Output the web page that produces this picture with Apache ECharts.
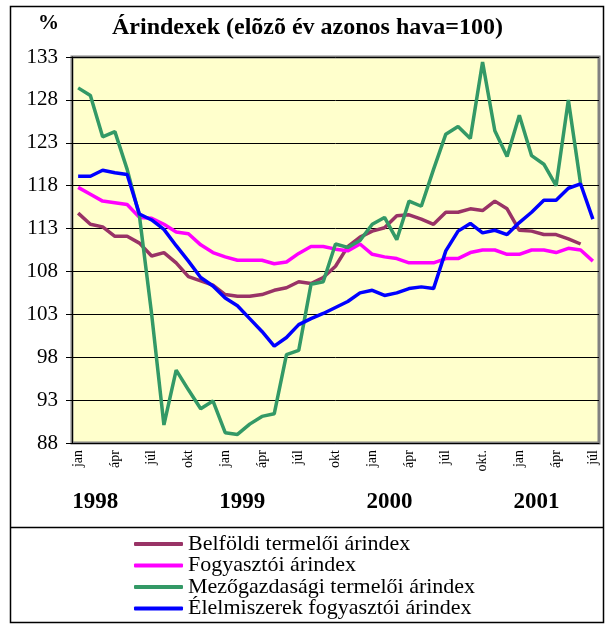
<!DOCTYPE html>
<html>
<head>
<meta charset="utf-8">
<script src="https://cdn.jsdelivr.net/npm/echarts@6/dist/echarts.min.js"></script>
<style>
  html, body { margin: 0; padding: 0; background: #fff; }
  #chart { width: 608px; height: 626px; }
</style>
</head>
<body>
<div id="chart"></div>
<script>
// months jan 1998 .. júl 2001
const years = ['1998', '1999', '2000', '2001']
const monthNames = ['jan', 'febr', 'márc', 'ápr', 'máj', 'jún', 'júl', 'aug', 'szept', 'okt', 'nov', 'dec']

const categories = []
const tickLabels = []
years.forEach((y, yi) => {
  monthNames.forEach((m, mi) => {
    if (yi === 3 && mi > 6) return
    categories.push(y + '-' + (mi + 1))
    tickLabels.push(m)
  })
})
tickLabels[33] = 'okt.'

const belfoldi = [114.8, 113.5, 113.2, 112.1, 112.1, 111.3, 109.8, 110.2, 109.0, 107.4, 106.9, 106.4,
  105.3, 105.1, 105.1, 105.3, 105.8, 106.1, 106.8, 106.6, 107.3, 108.6, 110.9, 112.0,
  112.7, 113.1, 114.5, 114.6, 114.1, 113.5, 114.9, 114.9, 115.3, 115.1, 116.2, 115.3,
  112.8, 112.7, 112.3, 112.3, 111.8, 111.2]

const fogyasztoi = [117.8, 117.0, 116.2, 116.0, 115.8, 114.3, 114.2, 113.5, 112.6, 112.4, 111.1, 110.2,
  109.7, 109.3, 109.3, 109.3, 108.9, 109.1, 110.1, 110.9, 110.9, 110.6, 110.4, 111.2,
  110.0, 109.7, 109.5, 109.0, 109.0, 109.0, 109.5, 109.5, 110.2, 110.5, 110.5, 110.0,
  110.0, 110.5, 110.5, 110.2, 110.7, 110.5, 109.2]

const mezogazdasagi = [129.4, 128.5, 123.7, 124.3, 119.9, 114.5, 103.0, 90.1, 96.5, 94.2, 92.0, 92.9,
  89.2, 89.0, 90.2, 91.1, 91.4, 98.3, 98.8, 106.5, 106.8, 111.2, 110.8, 111.6,
  113.5, 114.3, 111.7, 116.2, 115.6, 119.9, 124.0, 124.9, 123.5, 132.4, 124.4, 121.4,
  126.2, 121.5, 120.5, 118.0, 128.0, 118.2]

const elelmiszer = [119.1, 119.1, 119.8, 119.5, 119.3, 114.7, 114.0, 112.9, 111.0, 109.2, 107.3, 106.3,
  104.9, 104.0, 102.5, 101.0, 99.3, 100.3, 101.8, 102.5, 103.1, 103.8, 104.5, 105.5,
  105.8, 105.2, 105.5, 106.0, 106.2, 106.0, 110.4, 112.7, 113.6, 112.5, 112.8, 112.3,
  113.7, 114.9, 116.3, 116.3, 117.7, 118.2, 114.1]

const seriesNames = ['Belföldi termelői árindex', 'Fogyasztói árindex',
  'Mezőgazdasági termelői árindex', 'Élelmiszerek fogyasztói árindex']
const colors = ['#993366', '#ff00ff', '#339966', '#0000ff']

const serif = 'Liberation Serif, Times New Roman, serif'

let chart = echarts.init(document.getElementById('chart'))

function line (name, data, color) {
  return {
    name: name,
    type: 'line',
    data: data,
    symbol: 'none',
    lineStyle: { color: color, width: 3.5 },
    itemStyle: { color: color },
    z: 3
  }
}

let opts = {
  backgroundColor: '#fff',
  animation: false,
  color: colors,
  title: [
    { text: '%', left: 33, top: 8, textStyle: { fontFamily: serif, fontSize: 21, fontWeight: 'bold', color: '#000' } },
    { text: 'Árindexek (elõzõ év azonos hava=100)', left: 107, top: 11,
      textStyle: { fontFamily: serif, fontSize: 24, fontWeight: 'bold', color: '#000' } }
  ],
  grid: {
    left: 72, right: 9, top: 57, bottom: 183,
    show: true,
    backgroundColor: '#ffffcc',
    borderColor: '#808080',
    borderWidth: 3
  },
  legend: {
    orient: 'vertical',
    left: 134,
    top: 533,
    height: 140,
    padding: 0,
    itemWidth: 49,
    itemHeight: 4,
    itemGap: -0.5,
    icon: 'roundRect',
    textStyle: { fontFamily: serif, fontSize: 22, lineHeight: 19, color: '#000' },
    data: seriesNames
  },
  xAxis: {
    type: 'category',
    data: categories,
    boundaryGap: true,
    axisLine: { lineStyle: { color: '#000', width: 1 } },
    axisTick: { interval: 0, length: 5, lineStyle: { color: '#000' } },
    axisLabel: {
      interval: 2,
      rotate: 90,
      margin: 7,
      fontFamily: serif,
      fontSize: 14,
      color: '#000',
      formatter: (v, i) => tickLabels[i]
    },
    splitLine: { show: false }
  },
  yAxis: {
    type: 'value',
    min: 88,
    max: 133,
    interval: 5,
    axisLine: { show: true, lineStyle: { color: '#000', width: 1 } },
    axisTick: { show: true, length: 6, lineStyle: { color: '#000' } },
    axisLabel: { fontFamily: serif, fontSize: 21, color: '#000', margin: 14 },
    splitLine: { lineStyle: { color: '#000', width: 1 } }
  },
  series: [
    line(seriesNames[0], belfoldi, colors[0]),
    line(seriesNames[1], fogyasztoi, colors[1]),
    line(seriesNames[2], mezogazdasagi, colors[2]),
    line(seriesNames[3], elelmiszer, colors[3])
  ]
}
chart.setOption(opts)

// frame, separator and year labels under the month ticks
let yearTexts = years.map((y, k) => {
  let a = chart.convertToPixel({ xAxisIndex: 0 }, categories[k * 12 + 1])
  let b = chart.convertToPixel({ xAxisIndex: 0 }, categories[k * 12 + 2])
  let x = a + (b - a) * 0.4
  return {
    type: 'text',
    x: x,
    y: 502,
    style: {
      text: y,
      font: 'bold 23px ' + serif,
      fill: '#000',
      align: 'center',
      verticalAlign: 'middle'
    }
  }
})

chart.setOption({
  graphic: [
    { type: 'rect', shape: { x: 10.5, y: 6.5, width: 593, height: 616 },
      style: { fill: 'none', stroke: '#000', lineWidth: 1.5 }, z: -1 },
    { type: 'line', shape: { x1: 10, y1: 527.5, x2: 604, y2: 527.5 },
      style: { stroke: '#000', lineWidth: 1.5 } }
  ].concat(yearTexts)
})
</script>
</body>
</html>
